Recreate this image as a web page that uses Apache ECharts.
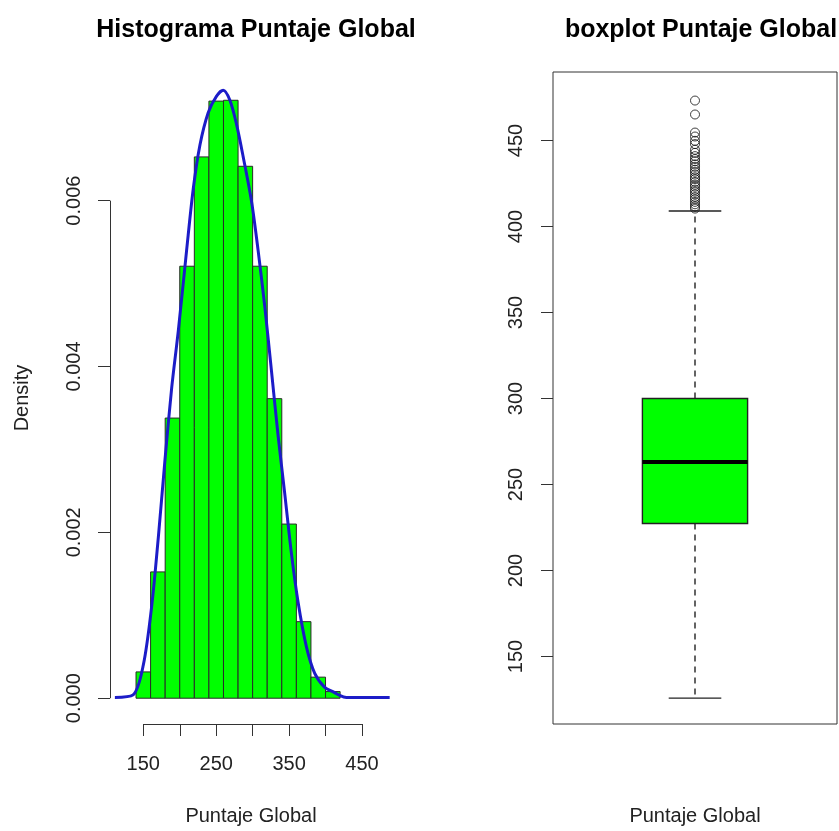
<!DOCTYPE html>
<html>
<head>
<meta charset="utf-8">
<script src="https://cdn.jsdelivr.net/npm/echarts@6/dist/echarts.min.js"></script>
<style>
  html, body { margin: 0; padding: 0; background: #fff; }
  #main { width: 839px; height: 831px; }
</style>
</head>
<body>
<div id="main"></div>
<script>
// histogram: bin edges and densities (freq = FALSE)
const binEdges = [140, 160, 180, 200, 220, 240, 260, 280, 300, 320, 340, 360, 380, 400, 420];
const binDensity = [0.000317, 0.001523, 0.003378, 0.005209, 0.006527, 0.0072, 0.00721,
  0.006414, 0.005209, 0.003612, 0.0021, 0.000923, 0.000254, 0.00008];

// kernel density curve
const curveX = [111, 136, 150, 161.5, 170.6, 179.7, 188.9, 198, 209.4, 218.5, 227.7, 239,
  250.5, 259.6, 268.8, 277.9, 287, 298.5, 307.5, 316.7, 325.9, 335, 344, 353.3, 362.3,
  373.8, 385.2, 398.9, 410, 418, 428.6, 488];
const curveY = [0.00001, 0.00004, 0.0004, 0.00111, 0.00194, 0.00287, 0.00374, 0.00443, 0.0054,
  0.00614, 0.00667, 0.00706, 0.00726, 0.00733, 0.00721, 0.00692, 0.00653, 0.00599, 0.0054,
  0.00472, 0.00394, 0.00316, 0.00247, 0.00174, 0.00116, 0.00062, 0.0003, 0.00013, 0.00008,
  0.00004, 0.00001, 0.00001];

const histXTicks = [150, 200, 250, 300, 350, 400, 450];
const histXLabels = [150, 250, 350, 450];
const histYTicks = [0, 0.002, 0.004, 0.006];

// boxplot: lower whisker, Q1, median, Q3, upper whisker
const boxStats = [125.8, 227.3, 263.1, 300, 409];
const outliers = [473.2, 465.1, 454.6, 452.3, 449.8, 447.9, 444.6, 442.8, 440.9, 439.2, 437.9,
  436.1, 434.7, 433.0, 431.8, 430.2, 428.6, 427.5, 425.9, 424.3, 423.1, 421.4, 420.2, 418.7,
  417.1, 415.8, 414.3, 412.9, 411.6, 410.4];
const boxYTicks = [150, 200, 250, 300, 350, 400, 450];

const font = 'Liberation Sans, Arial, sans-serif';
const ink = '#222';
const axisCol = '#333';
const histXMin = 104.3, histXMax = 491.2;
const histYMin = -0.000311, histYMax = 0.007551;

const bins = binDensity.map((d, i) => [binEdges[i], binEdges[i + 1], d]);
const curve = curveX.map((x, i) => [x, curveY[i]]);

const chart = echarts.init(document.getElementById('main'));
chart.setOption({
  animation: false,
  backgroundColor: '#fff',
  textStyle: { fontFamily: font },
  title: [
    { text: 'Histograma Puntaje Global', left: 251, top: 13, textAlign: 'center',
      textStyle: { fontSize: 25, fontWeight: 'bold', color: '#000', fontFamily: font } },
    { text: 'boxplot Puntaje Global', left: 696, top: 13, textAlign: 'center',
      textStyle: { fontSize: 25, fontWeight: 'bold', color: '#000', fontFamily: font } }
  ],
  grid: [
    { left: 110, top: 72, width: 282, height: 657 },
    { left: 553, top: 72, width: 284, height: 657, show: true, borderColor: axisCol, borderWidth: 1 }
  ],
  xAxis: [
    {
      type: 'value', gridIndex: 0, min: histXMin, max: histXMax,
      axisLine: { show: false, onZero: false },
      splitLine: { show: false },
      axisTick: { show: true, customValues: histXTicks, length: 12, lineStyle: { color: axisCol } },
      axisLabel: { customValues: histXLabels, margin: 30, fontSize: 20, color: ink, fontFamily: font },
      name: 'Puntaje Global', nameLocation: 'middle', nameGap: 82,
      nameTextStyle: { fontSize: 20, color: ink, fontFamily: font }
    },
    {
      type: 'value', gridIndex: 1, min: 0.46, max: 1.54,
      axisLine: { show: false, onZero: false },
      splitLine: { show: false }, axisTick: { show: false }, axisLabel: { show: false },
      name: 'Puntaje Global', nameLocation: 'middle', nameGap: 82,
      nameTextStyle: { fontSize: 20, color: ink, fontFamily: font }
    }
  ],
  yAxis: [
    {
      type: 'value', gridIndex: 0, min: histYMin, max: histYMax,
      axisLine: { show: false, onZero: false },
      splitLine: { show: false },
      axisTick: { show: true, customValues: histYTicks, length: 12, lineStyle: { color: axisCol } },
      axisLabel: { customValues: histYTicks, rotate: 90, margin: 26, fontSize: 20, color: ink,
        fontFamily: font, formatter: v => v.toFixed(3) },
      name: 'Density', nameLocation: 'middle', nameGap: 78, nameRotate: 90,
      nameTextStyle: { fontSize: 20, color: ink, fontFamily: font }
    },
    {
      type: 'value', gridIndex: 1, min: 110.77, max: 489.8,
      axisLine: { show: false, onZero: false },
      splitLine: { show: false },
      axisTick: { show: true, customValues: boxYTicks, length: 12, lineStyle: { color: axisCol } },
      axisLabel: { customValues: boxYTicks, rotate: 90, margin: 27, fontSize: 20, color: ink, fontFamily: font }
    }
  ],
  series: [
    {
      type: 'custom', xAxisIndex: 0, yAxisIndex: 0,
      data: bins,
      encode: { x: [0, 1], y: 2 },
      renderItem: function (params, api) {
        const p1 = api.coord([api.value(0), api.value(2)]);
        const p2 = api.coord([api.value(1), 0]);
        return {
          type: 'rect',
          shape: { x: p1[0], y: p1[1], width: p2[0] - p1[0], height: p2[1] - p1[1] },
          style: { fill: '#00ff00', stroke: '#2a2a2a', lineWidth: 1 }
        };
      },
      markLine: {
        silent: true, symbol: 'none', label: { show: false },
        lineStyle: { color: axisCol, type: 'solid', width: 1 },
        data: [
          [{ coord: [histXTicks[0], histYMin] }, { coord: [histXTicks[histXTicks.length - 1], histYMin] }],
          [{ coord: [histXMin, histYTicks[0]] }, { coord: [histXMin, histYTicks[histYTicks.length - 1]] }]
        ]
      }
    },
    {
      type: 'line', xAxisIndex: 0, yAxisIndex: 0,
      data: curve, showSymbol: false, smooth: 0.3,
      lineStyle: { color: '#1c1cc8', width: 3 }
    },
    {
      type: 'custom', xAxisIndex: 1, yAxisIndex: 1,
      data: [[1].concat(boxStats)],
      encode: { x: 0, y: [1, 2, 3, 4, 5] },
      renderItem: function (params, api) {
        const cx = api.value(0);
        const half = 0.2, staple = 0.1;
        const lo = api.value(1), q1 = api.value(2), med = api.value(3), q3 = api.value(4), hi = api.value(5);
        const tl = api.coord([cx - half, q3]);
        const br = api.coord([cx + half, q1]);
        const line = (a, b, style) => ({ type: 'line', shape: { x1: a[0], y1: a[1], x2: b[0], y2: b[1] }, style: style });
        const dash = { stroke: '#222', lineWidth: 1.4, lineDash: [6, 5] };
        const solid = { stroke: '#222', lineWidth: 1.4 };
        return {
          type: 'group',
          children: [
            line(api.coord([cx, q3]), api.coord([cx, hi]), dash),
            line(api.coord([cx, q1]), api.coord([cx, lo]), dash),
            line(api.coord([cx - staple, hi]), api.coord([cx + staple, hi]), solid),
            line(api.coord([cx - staple, lo]), api.coord([cx + staple, lo]), solid),
            { type: 'rect', shape: { x: tl[0], y: tl[1], width: br[0] - tl[0], height: br[1] - tl[1] },
              style: { fill: '#00ff00', stroke: '#222', lineWidth: 1.4 } },
            line(api.coord([cx - half, med]), api.coord([cx + half, med]), { stroke: '#000', lineWidth: 4 })
          ]
        };
      }
    },
    {
      type: 'scatter', xAxisIndex: 1, yAxisIndex: 1,
      data: outliers.map(v => [1, v]),
      symbol: 'circle', symbolSize: 9,
      itemStyle: { color: 'rgba(0,0,0,0)', borderColor: '#111', borderWidth: 1 }
    }
  ]
});
</script>
</body>
</html>
